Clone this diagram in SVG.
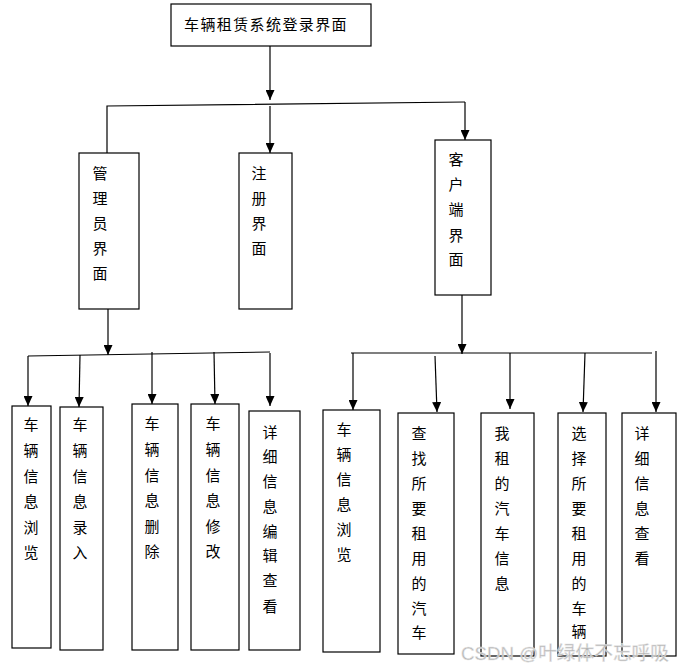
<svg xmlns="http://www.w3.org/2000/svg" width="687" height="669" viewBox="0 0 687 669">
<style>
.box{fill:#fff;stroke:#000;stroke-width:1.2}
.t{font-family:"Noto Sans CJK SC","Liberation Sans",sans-serif;font-size:15px;fill:#000;text-anchor:middle;dominant-baseline:central}
.ln{stroke:#000;stroke-width:1.2;fill:none}
.wm{font-family:"Liberation Sans","Noto Sans CJK SC",sans-serif;font-size:19px;fill:#b4b4b4;stroke:#e8e8e8;stroke-width:0.5}
</style>
<defs>
<marker id="ah" markerUnits="userSpaceOnUse" markerWidth="10" markerHeight="9" refX="10" refY="4.5" orient="auto">
<path d="M0,0 L10,4.5 L0,9 z" fill="#000"/>
</marker>
</defs>
<rect width="687" height="669" fill="#fff"/>
<g id="connectors">
<line class="ln" x1="270" y1="46" x2="270" y2="100" marker-end="url(#ah)"/>
<polyline class="ln" points="107,153 107,106 465,102"/>
<line class="ln" x1="465" y1="102" x2="465" y2="140" marker-end="url(#ah)"/>
<line class="ln" x1="270" y1="106" x2="270" y2="153" marker-end="url(#ah)"/>
<line class="ln" x1="108" y1="309" x2="108" y2="355" marker-end="url(#ah)"/>
<line class="ln" x1="28" y1="356" x2="270" y2="352"/>
<line class="ln" x1="28" y1="356" x2="28" y2="406" marker-end="url(#ah)"/>
<line class="ln" x1="80" y1="355" x2="79" y2="407" marker-end="url(#ah)"/>
<line class="ln" x1="152" y1="352" x2="152" y2="404" marker-end="url(#ah)"/>
<line class="ln" x1="214" y1="352" x2="215" y2="404" marker-end="url(#ah)"/>
<line class="ln" x1="270" y1="353" x2="270" y2="406" marker-end="url(#ah)"/>
<line class="ln" x1="462" y1="295" x2="462" y2="354" marker-end="url(#ah)"/>
<line class="ln" x1="351" y1="353" x2="652" y2="353"/>
<line class="ln" x1="353" y1="353" x2="353" y2="410" marker-end="url(#ah)"/>
<line class="ln" x1="435" y1="356" x2="437" y2="412" marker-end="url(#ah)"/>
<line class="ln" x1="510" y1="353" x2="510" y2="409" marker-end="url(#ah)"/>
<line class="ln" x1="585" y1="353" x2="583" y2="412" marker-end="url(#ah)"/>
<line class="ln" x1="656" y1="351" x2="656" y2="412" marker-end="url(#ah)"/>
</g>
<g id="login">
<rect class="box" x="171" y="4" width="200" height="42"/>
<text class="t" x="266" y="23" style="letter-spacing:1.4px">车辆租赁系统登录界面</text>
</g>
<g id="admin">
<rect class="box" x="79" y="153" width="60" height="156"/>
<text class="t" x="100" y="172">管</text><text class="t" x="100" y="197">理</text><text class="t" x="100" y="222">员</text><text class="t" x="100" y="247">界</text><text class="t" x="100" y="272">面</text>
</g>
<g id="register">
<rect class="box" x="239" y="153" width="53" height="156"/>
<text class="t" x="259" y="172">注</text><text class="t" x="259" y="197">册</text><text class="t" x="259" y="222">界</text><text class="t" x="259" y="247">面</text>
</g>
<g id="client">
<rect class="box" x="435" y="140" width="56" height="155"/>
<text class="t" x="456" y="158">客</text><text class="t" x="456" y="183">户</text><text class="t" x="456" y="208">端</text><text class="t" x="456" y="234">界</text><text class="t" x="456" y="258">面</text>
</g>
<g id="a1">
<rect class="box" x="12" y="406" width="39" height="242"/>
<text class="t" x="31" y="423">车</text><text class="t" x="31" y="449">辆</text><text class="t" x="31" y="475">信</text><text class="t" x="31" y="500">息</text><text class="t" x="31" y="526">浏</text><text class="t" x="31" y="551">览</text>
</g>
<g id="a2">
<rect class="box" x="60" y="407" width="43" height="243"/>
<text class="t" x="80" y="423">车</text><text class="t" x="80" y="449">辆</text><text class="t" x="80" y="475">信</text><text class="t" x="80" y="500">息</text><text class="t" x="80" y="526">录</text><text class="t" x="80" y="551">入</text>
</g>
<g id="a3">
<rect class="box" x="132" y="404" width="46" height="246"/>
<text class="t" x="152" y="422">车</text><text class="t" x="152" y="448">辆</text><text class="t" x="152" y="474">信</text><text class="t" x="152" y="499">息</text><text class="t" x="152" y="525">删</text><text class="t" x="152" y="550">除</text>
</g>
<g id="a4">
<rect class="box" x="191" y="404" width="48" height="246"/>
<text class="t" x="213" y="422">车</text><text class="t" x="213" y="448">辆</text><text class="t" x="213" y="474">信</text><text class="t" x="213" y="499">息</text><text class="t" x="213" y="525">修</text><text class="t" x="213" y="550">改</text>
</g>
<g id="a5">
<rect class="box" x="249" y="411" width="51" height="239"/>
<text class="t" x="270" y="431">详</text><text class="t" x="270" y="455">细</text><text class="t" x="270" y="480">信</text><text class="t" x="270" y="505">息</text><text class="t" x="270" y="530">编</text><text class="t" x="270" y="554">辑</text><text class="t" x="270" y="579">查</text><text class="t" x="270" y="605">看</text>
</g>
<g id="c1">
<rect class="box" x="323" y="410" width="57" height="242"/>
<text class="t" x="344" y="428">车</text><text class="t" x="344" y="453">辆</text><text class="t" x="344" y="478">信</text><text class="t" x="344" y="503">息</text><text class="t" x="344" y="528">浏</text><text class="t" x="344" y="553">览</text>
</g>
<g id="c2">
<rect class="box" x="398" y="413" width="56" height="241"/>
<text class="t" x="419" y="432">查</text><text class="t" x="419" y="457">找</text><text class="t" x="419" y="482">所</text><text class="t" x="419" y="507">要</text><text class="t" x="419" y="532">租</text><text class="t" x="419" y="557">用</text><text class="t" x="419" y="582">的</text><text class="t" x="419" y="607">汽</text><text class="t" x="419" y="631">车</text>
</g>
<g id="c3">
<rect class="box" x="481" y="413" width="53" height="243"/>
<text class="t" x="502" y="432">我</text><text class="t" x="502" y="457">租</text><text class="t" x="502" y="482">的</text><text class="t" x="502" y="507">汽</text><text class="t" x="502" y="532">车</text><text class="t" x="502" y="557">信</text><text class="t" x="502" y="582">息</text>
</g>
<g id="c4">
<rect class="box" x="558" y="413" width="48" height="243"/>
<text class="t" x="579" y="432">选</text><text class="t" x="579" y="457">择</text><text class="t" x="579" y="482">所</text><text class="t" x="579" y="507">要</text><text class="t" x="579" y="532">租</text><text class="t" x="579" y="557">用</text><text class="t" x="579" y="582">的</text><text class="t" x="579" y="607">车</text><text class="t" x="579" y="630">辆</text>
</g>
<g id="c5">
<rect class="box" x="622" y="413" width="54" height="243"/>
<text class="t" x="642" y="432">详</text><text class="t" x="642" y="457">细</text><text class="t" x="642" y="482">信</text><text class="t" x="642" y="507">息</text><text class="t" x="642" y="532">查</text><text class="t" x="642" y="557">看</text>
</g>
<text class="wm" x="461" y="660" textLength="208" lengthAdjust="spacingAndGlyphs">CSDN @叶绿体不忘呼吸</text>
</svg>
